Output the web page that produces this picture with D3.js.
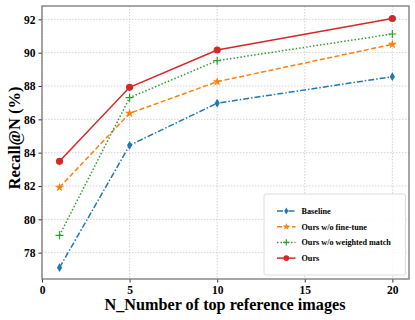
<!DOCTYPE html>
<html>
<head>
<meta charset="utf-8">
<script src="https://cdn.jsdelivr.net/npm/d3@7"></script>
<style>
  body { margin: 0; background: #fff; }
  text { font-family: "Liberation Serif", "DejaVu Serif", serif; font-weight: bold; }
</style>
</head>
<body>
<svg id="chart" width="415" height="320"></svg>
<script>
// DATA
// ========================================================================
var topN = [1, 5, 10, 20];
var baseline = [77.1, 84.44, 86.97, 88.56];
var noFineTune = [81.92, 86.36, 88.26, 90.5];
var noWeighted = [79.04, 87.3, 89.52, 91.12];
var ours = [83.48, 87.92, 90.16, 92.05];
var seriesNames = ["Baseline", "Ours w/o fine-tune", "Ours w/o weighted match", "Ours"];
var xTicks = [0, 5, 10, 15, 20];
var yTicks = [78, 80, 82, 84, 86, 88, 90, 92];
// ========================================================================

var series = [
  {name: seriesNames[0], values: baseline,   color: "#1f77b4", dash: "6,2,1.5,2", marker: "diamond"},
  {name: seriesNames[1], values: noFineTune, color: "#ff7f0e", dash: "5,2.5",     marker: "star"},
  {name: seriesNames[2], values: noWeighted, color: "#2ca02c", dash: "1.5,2",     marker: "plus"},
  {name: seriesNames[3], values: ours,       color: "#d62728", dash: null,        marker: "circle"}
];

var margin = {left: 42, top: 6, right: 6, bottom: 41};
var width = 415 - margin.left - margin.right;
var height = 320 - margin.top - margin.bottom;

var svg = d3.select("#chart");
var g = svg.append("g").attr("transform", "translate(" + margin.left + "," + margin.top + ")");

var x = d3.scaleLinear().domain([0, 20.95]).range([0, width]);
var y = d3.scaleLinear().domain([76.42, 92.8]).range([height, 0]);

// grid
g.append("g").selectAll("line").data(xTicks).enter().append("line")
  .attr("x1", d => x(d)).attr("x2", d => x(d)).attr("y1", 0).attr("y2", height)
  .attr("stroke", "#c8c8c8").attr("stroke-width", 0.8).attr("stroke-dasharray", "1.5,1.5");
g.append("g").selectAll("line").data(yTicks).enter().append("line")
  .attr("y1", d => y(d)).attr("y2", d => y(d)).attr("x1", 0).attr("x2", width)
  .attr("stroke", "#c8c8c8").attr("stroke-width", 0.8).attr("stroke-dasharray", "1.5,1.5");

// axes
var xAxis = g.append("g").attr("transform", "translate(0," + height + ")")
  .call(d3.axisBottom(x).tickValues(xTicks).tickSize(3.5).tickPadding(3));
var yAxis = g.append("g")
  .call(d3.axisLeft(y).tickValues(yTicks).tickSize(3.5).tickPadding(3));
[xAxis, yAxis].forEach(function(a) {
  a.select(".domain").remove();
  a.selectAll("line").attr("stroke", "#333");
  a.selectAll("text").attr("font-size", 11.5).attr("fill", "#000")
    .style("font-family", "'Liberation Serif', serif").style("font-weight", "bold");
});

// frame
g.append("rect").attr("width", width).attr("height", height)
  .attr("fill", "none").attr("stroke", "#777").attr("stroke-width", 1.3);

// lines
var line = d3.line().x((d, i) => x(topN[i])).y(d => y(d));

function drawMarker(sel, type, color, size) {
  if (type === "circle") {
    sel.append("circle").attr("r", size * 0.9).attr("fill", color);
  } else if (type === "diamond") {
    sel.append("path").attr("d", "M0," + (-size * 1.1) + "L" + (size * 0.65) + ",0L0," + (size * 1.1) + "L" + (-size * 0.65) + ",0Z")
      .attr("fill", color);
  } else if (type === "star") {
    sel.append("path").attr("d", d3.symbol().type(d3.symbolStar).size(size * size * 1.6)()).attr("fill", color);
  } else if (type === "plus") {
    sel.append("path").attr("d", "M" + (-size) + ",0H" + size + "M0," + (-size) + "V" + size)
      .attr("stroke", color).attr("stroke-width", 1.2).attr("fill", "none");
  }
}

series.forEach(function(s) {
  g.append("path").datum(s.values).attr("d", line)
    .attr("fill", "none").attr("stroke", s.color).attr("stroke-width", 1.5)
    .attr("stroke-dasharray", s.dash);
  s.values.forEach(function(v, i) {
    var m = g.append("g").attr("transform", "translate(" + x(topN[i]) + "," + y(v) + ")");
    drawMarker(m, s.marker, s.color, 4);
  });
});

// legend
var lg = svg.append("g").attr("transform", "translate(264,194)");
lg.append("rect").attr("width", 141.5).attr("height", 81).attr("rx", 2)
  .attr("fill", "#fff").attr("fill-opacity", 0.85).attr("stroke", "#d5d5d5").attr("stroke-width", 0.8);
series.forEach(function(s, i) {
  var row = lg.append("g").attr("transform", "translate(0," + (17 + i * 15.7) + ")");
  row.append("line").attr("x1", 13).attr("x2", 31.5).attr("y1", 0).attr("y2", 0)
    .attr("stroke", s.color).attr("stroke-width", 1.5).attr("stroke-dasharray", s.dash);
  var m = row.append("g").attr("transform", "translate(22.3,0)");
  drawMarker(m, s.marker, s.color, 3.2);
  row.append("text").attr("x", 37.5).attr("y", 2.8).attr("font-size", 8.2).text(s.name);
});

// axis labels
svg.append("text").attr("x", 225).attr("y", 310)
  .attr("text-anchor", "middle").attr("font-size", 16.2).text("N_Number of top reference images");
svg.append("text").attr("transform", "translate(19.5,138) rotate(-90)")
  .attr("text-anchor", "middle").attr("font-size", 16.5).text("Recall@N (%)");
</script>
</body>
</html>
